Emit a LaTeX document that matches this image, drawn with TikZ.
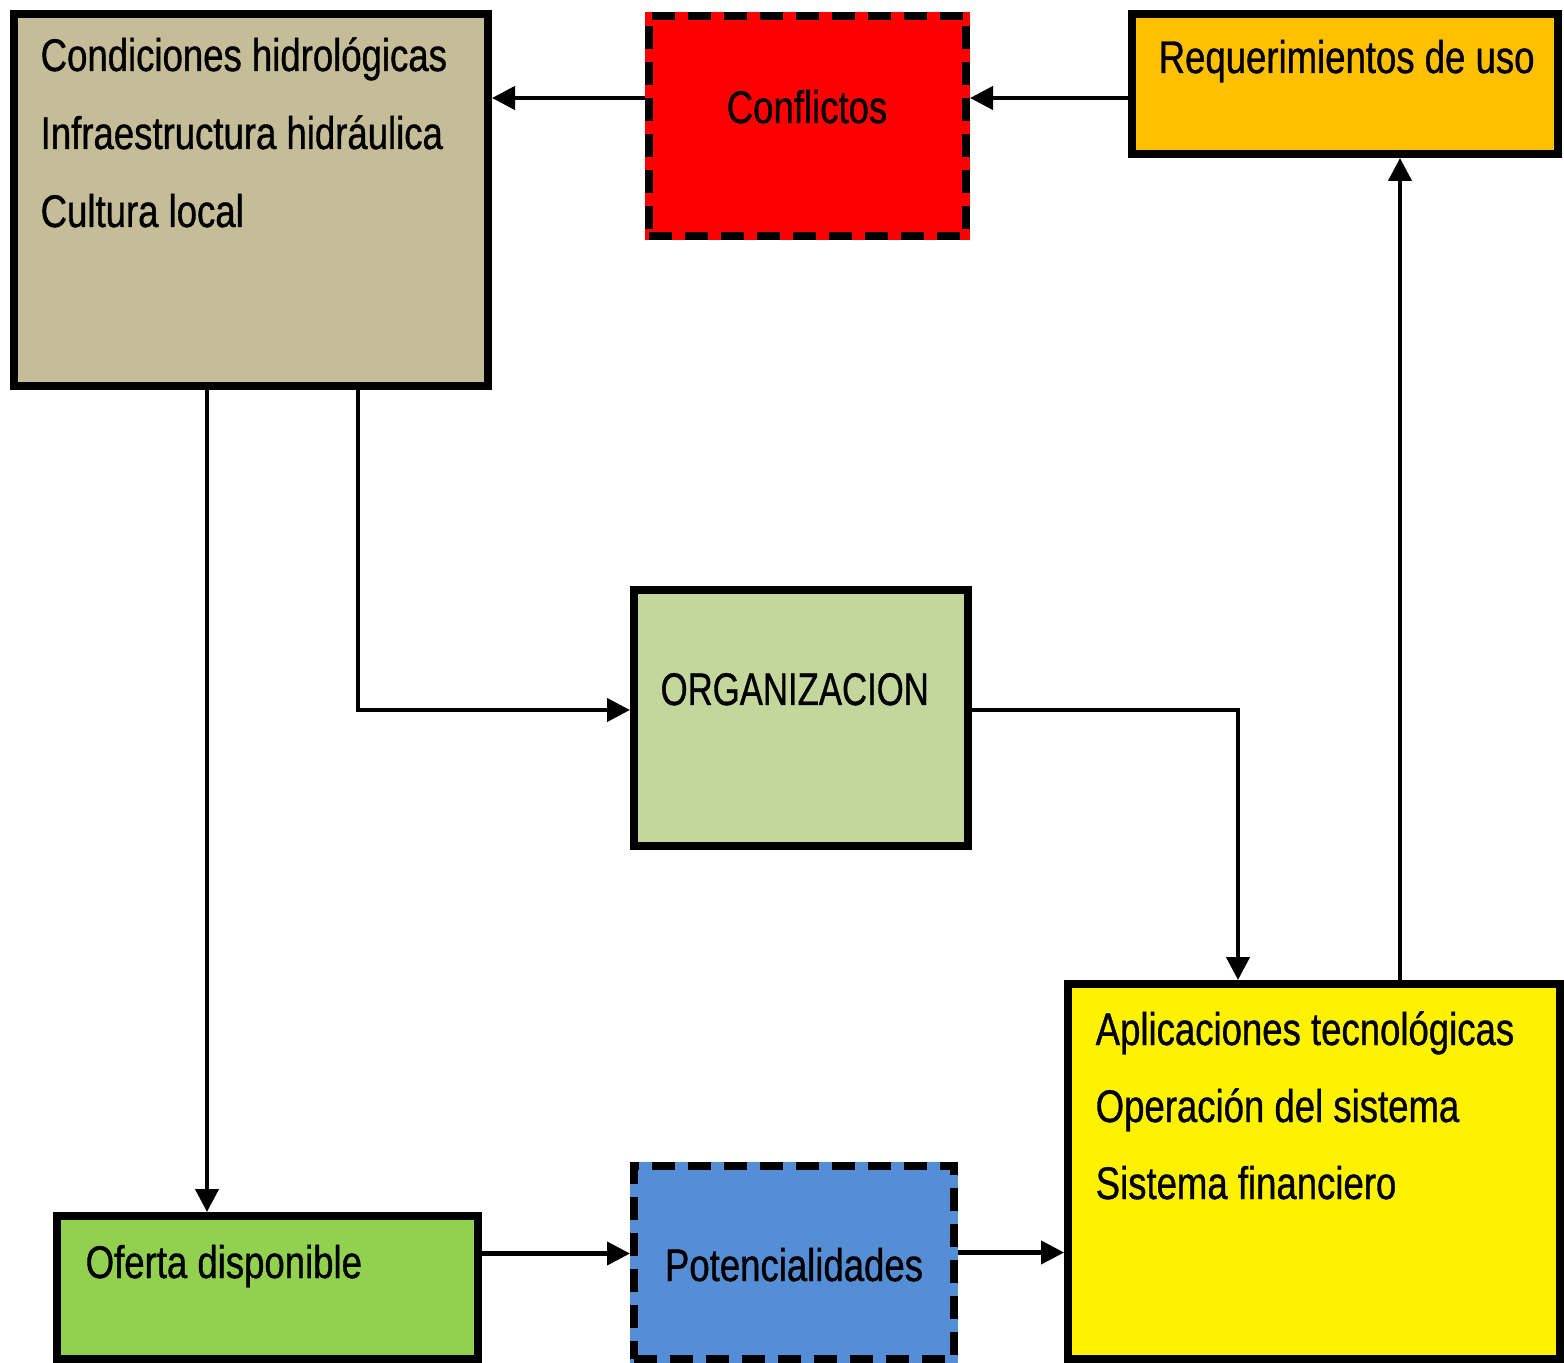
\documentclass[tikz,border=0pt]{standalone}
\usepackage{fontspec}
\setmainfont[FakeStretch=0.8,FakeBold=0.8]{Liberation Sans}
\usetikzlibrary{arrows.meta}
\definecolor{tanbox}{HTML}{C4BD97}
\definecolor{orgbox}{HTML}{C3D69B}
\definecolor{reqbox}{HTML}{FFC000}
\definecolor{ofebox}{HTML}{92D050}
\definecolor{potbox}{HTML}{558ED5}

\begin{document}
\begin{tikzpicture}[
    box/.style={draw=black,line width=0.08cm,inner sep=0pt},
    dbox/.style={box,fill=#1,preaction={draw=#1,solid},dash pattern=on 2.3mm off 1.3mm},
    arr/.style={line width=1.2pt,-{Triangle[length=2.3mm,width=2.3mm]}},
    txt/.style={inner sep=0pt,anchor=base west,font=\fontsize{13pt}{16pt}\selectfont}]
      \useasboundingbox (0,0) rectangle (15.64,-13.63) ;
      % cajas
      \node[box,fill=tanbox,minimum width=4.74cm,minimum height=3.72cm] (cond) at (2.51,-2.00) {} ;
      \node[dbox=red,minimum width=3.17cm,minimum height=2.20cm] (confl) at (8.075,-1.26) {} ;
      \node[box,fill=reqbox,minimum width=4.26cm,minimum height=1.40cm] (req) at (13.45,-0.84) {} ;
      \node[box,fill=orgbox,minimum width=3.34cm,minimum height=2.56cm] (org) at (8.01,-7.18) {} ;
      \node[box,fill=yellow,minimum width=4.92cm,minimum height=3.75cm] (apl) at (13.14,-11.715) {} ;
      \node[box,fill=ofebox,minimum width=4.21cm,minimum height=1.43cm] (ofe) at (2.675,-12.875) {} ;
      \node[dbox=potbox,minimum width=3.20cm,minimum height=1.93cm] (pot) at (7.94,-12.625) {} ;
      % textos
      \node[txt] (c1) at (0.40,-0.71) {Condiciones hidrológicas} ;
      \node[txt] (c2) at (0.40,-1.49) {Infraestructura hidráulica} ;
      \node[txt] (c3) at (0.40,-2.27) {Cultura local} ;
      \node[txt,anchor=base] (t-confl) at (8.07,-1.23) {Conflictos} ;
      \node[txt] (t-req) at (11.58,-0.73) {Requerimientos de uso} ;
      \node[txt,xscale=0.95] (t-org) at (6.60,-7.05) {ORGANIZACION} ;
      \node[txt] (a1) at (10.95,-10.45) {Aplicaciones tecnológicas} ;
      \node[txt] (a2) at (10.95,-11.22) {Operación del sistema} ;
      \node[txt] (a3) at (10.95,-11.99) {Sistema financiero} ;
      \node[txt] (t-ofe) at (0.85,-12.78) {Oferta disponible} ;
      \node[txt,anchor=base] (t-pot) at (7.94,-12.81) {Potencialidades} ;
      % flechas
      \draw[arr] ([yshift=2.8mm]confl.west) -- ([yshift=2.8mm]confl.west -| cond.east) ;
      \draw[arr] ([yshift=-1.4mm]req.west) -- ([yshift=-1.4mm]req.west -| confl.east) ;
      \draw[arr] ([xshift=-4.4mm]cond.south) -- ([xshift=-4.4mm]cond.south |- ofe.north) ;
      \draw[arr] ([xshift=10.7mm]cond.south) |- ([yshift=0.8mm]org.west) ;
      \draw[arr] ([yshift=0.8mm]org.east) -| ([xshift=-7.6mm]apl.north) ;
      \draw[arr] ([xshift=8.6mm]apl.north) -- ([xshift=8.6mm]apl.north |- req.south) ;
      \draw[arr] ([yshift=3.4mm]ofe.east) -- ([yshift=3.4mm]ofe.east -| pot.west) ;
      \draw[arr] ([yshift=1mm]pot.east) -- ([yshift=1mm]pot.east -| apl.west) ;
\end{tikzpicture}
\end{document}
